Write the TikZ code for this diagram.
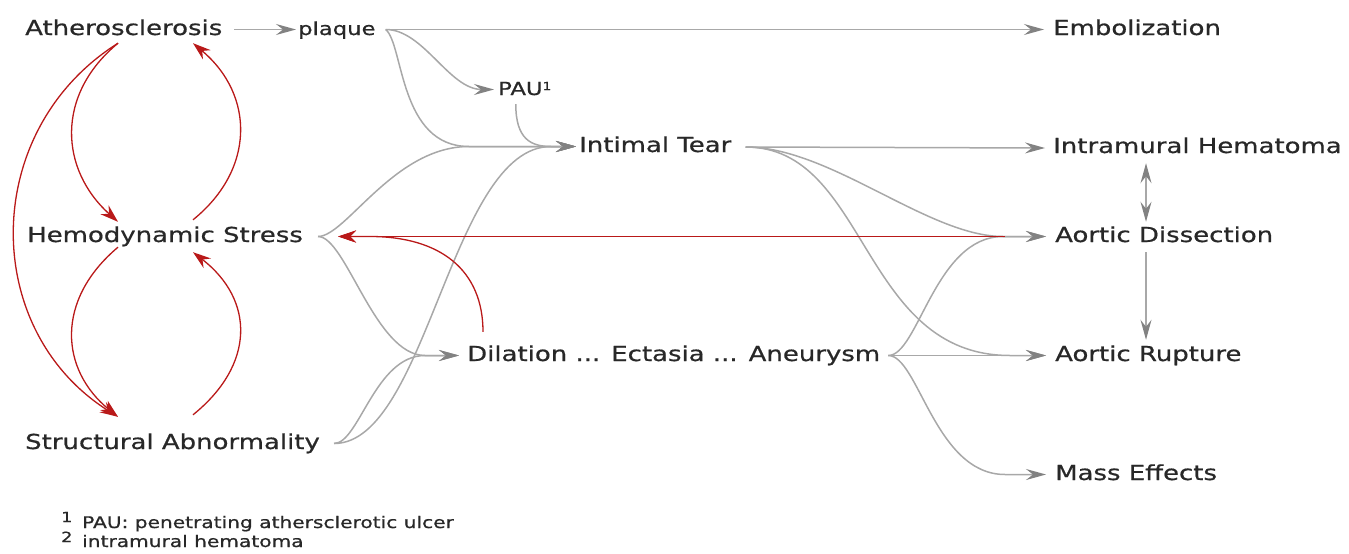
\documentclass[tikz,border=0pt]{standalone}
\usepackage{fontspec}
\setmainfont{DejaVu Sans}[FakeStretch=1.26,FakeBold=0.7]
\usetikzlibrary{arrows.meta}
\definecolor{txt}{RGB}{40,40,40}
\definecolor{lg}{RGB}{168,168,168}
\definecolor{tg}{RGB}{130,130,130}
\definecolor{rc}{RGB}{185,25,25}
\begin{document}
\begin{tikzpicture}[x=1pt,y=-1pt,
 lbl/.style={anchor=base west, inner sep=0pt, text height=11pt, text depth=0pt, text=txt, font=\fontsize{20.6}{24}\selectfont},
 slbl/.style={lbl, font=\fontsize{18}{21}\selectfont},
 flbl/.style={lbl, font=\fontsize{16}{19}\selectfont},
 dlbl/.style={lbl, font=\fontsize{14}{16}\selectfont},
 ge/.style={draw=lg, line width=1.5pt, -{Stealth[length=20pt,width=11pt,inset=7pt,color=tg]}},
 gee/.style={draw=lg, line width=1.5pt, {Stealth[length=20pt,width=11pt,inset=7pt,color=tg]}-{Stealth[length=20pt,width=11pt,inset=7pt,color=tg]}},
 re/.style={draw=rc, line width=1.3pt, -{Stealth[length=18pt,width=12pt,inset=6pt,color=rc]}},
]
\useasboundingbox (0,0) rectangle (1349,554);

% nodes
\node[lbl]  (ath) at (25,35)   {Atherosclerosis};
\node[slbl] (plq) at (298,35)  {plaque};
\node[lbl]  (emb) at (1053,35) {Embolization};
\node[slbl] (pau) at (498,95)  {PAU\raisebox{5pt}{\fontsize{11}{11}\selectfont 1}};
\node[lbl]  (int) at (579,152) {Intimal Tear};
\node[lbl]  (imh) at (1053,153) {Intramural Hematoma};
\node[lbl]  (hem) at (27,242)  {Hemodynamic Stress};
\node[lbl]  (dis) at (1055,242) {Aortic Dissection};
\node[lbl]  (dil) at (467,361) {Dilation ... Ectasia ... Aneurysm};
\node[lbl]  (rup) at (1055,361) {Aortic Rupture};
\node[lbl]  (str) at (25,449)  {Structural Abnormality};
\node[lbl]  (mas) at (1055,480) {Mass Effects};
\node[dlbl] (fd1) at (61,522) {1};
\node[flbl] (fn1) at (82,528) {PAU: penetrating athersclerotic ulcer};
\node[dlbl] (fd2) at (61,542) {2};
\node[flbl] (fn2) at (82,547) {intramural hematoma};

% connection points
\coordinate (pT)  at ([xshift=10pt]plq.east);
\coordinate (iT)  at ([xshift=-3pt]int.west);
\coordinate (iM)  at ([xshift=-110pt]int.west);
\coordinate (iM2) at ([xshift=-28pt]int.west);
\coordinate (pS)  at ([xshift=-9pt,yshift=-9pt]pau.south);
\coordinate (hT)  at ([xshift=15pt]hem.east);
\coordinate (dT)  at ([xshift=-8pt]dil.west);
\coordinate (dM)  at ([xshift=-42pt]dil.west);
\coordinate (sT)  at ([xshift=14pt]str.east);
\coordinate (iTl) at ([xshift=14pt,yshift=-0.5pt]int.east);
\coordinate (disT) at ([xshift=-9pt]dis.west);
\coordinate (disM) at ([xshift=-52pt]dis.west);
\coordinate (rT)  at ([xshift=-9pt]rup.west);
\coordinate (rM)  at ([xshift=-45pt]rup.west);
\coordinate (dlT) at ([xshift=8pt]dil.east);
\coordinate (mT)  at ([xshift=-9pt]mas.west);
\coordinate (mM)  at ([xshift=-50pt]mas.west);
\coordinate (vx)  at (1146,0);

% gray edges
\draw[ge] ([xshift=12pt]ath.east) -- ([xshift=-2pt]plq.west);
\draw[ge] (pT) -- ([xshift=-9pt]emb.west);
\draw[ge] (pT) .. controls +(38,0) and +(-45,0) .. ([xshift=-4pt]pau.west);
\draw[ge] (pT) .. controls +(18,15) and +(-70,0) .. (iM) -- (iT);
\draw[ge] (pS) .. controls +(0,35) and +(-20,0) .. (iM2) -- (iT);
\draw[ge] (hT) .. controls +(28,0) and +(-75,0) .. (iM) -- (iT);
\draw[ge] (hT) .. controls +(28,0) and +(-50,0) .. (dM) -- (dT);
\draw[ge] (sT) .. controls +(25,0) and +(-50,0) .. (dM) -- (dT);
\draw[ge] (sT) .. controls +(93,0) and +(-100,0) .. (iM2) -- (iT);
\draw[ge] (iTl) -- ([xshift=-8pt,yshift=-0.5pt]imh.west);
\draw[ge] (iTl) .. controls +(85,0) and +(-75,0) .. (disM) -- (disT);
\draw[ge] (iTl) .. controls +(123,0) and +(-150,0) .. (rM) -- (rT);
\draw[ge] (dlT) .. controls +(30,0) and +(-68,0) .. (disM) -- (disT);
\draw[ge] (dlT) -- (rT);
\draw[ge] (dlT) .. controls +(30,0) and +(-70,0) .. (mM) -- (mT);
\draw[gee] ([yshift=-10pt]imh.south -| vx) -- ([yshift=9pt]dis.north -| vx);
\draw[ge] ([yshift=-10pt]dis.south -| vx) -- ([yshift=10pt]rup.north -| vx);

% red edges
\coordinate (a1) at ([xshift=93pt,yshift=-8pt]ath.south west);
\coordinate (a2) at ([xshift=168pt,yshift=-8pt]ath.south west);
\coordinate (h1) at ([xshift=91pt,yshift=9pt]hem.north west);
\coordinate (h2) at ([xshift=166pt,yshift=11pt]hem.north west);
\coordinate (h3) at ([xshift=91pt,yshift=-5pt]hem.south west);
\coordinate (h4) at ([xshift=166pt,yshift=-10pt]hem.south west);
\coordinate (s1) at ([xshift=93pt,yshift=21pt]str.north west);
\coordinate (s2) at ([xshift=168pt,yshift=23pt]str.north west);
\coordinate (hTip) at ([xshift=35pt]hem.east);
\coordinate (hRM) at ([xshift=67pt]hem.east);
\coordinate (dlS) at ([xshift=16pt,yshift=18pt]dil.north west);

\draw[re] (a1) .. controls +(-63,52) and +(-58,-52) .. (h1);
\draw[re] (h2) .. controls +(62,-50) and +(62,52) .. (a2);
\draw[re] (h3) .. controls +(-63,53) and +(-58,-47) .. (s1);
\draw[re] (s2) .. controls +(62,-50) and +(62,48) .. (h4);
\draw[re] (a1) .. controls +(-138,87) and +(-138,-87) .. (s1);
\draw[re, line width=1.1pt] ([xshift=-50pt]dis.west) -- (hTip);
\draw[re] (dlS) .. controls +(0,-62) and +(70,0) .. (hRM) -- (hTip);
\end{tikzpicture}
\end{document}
